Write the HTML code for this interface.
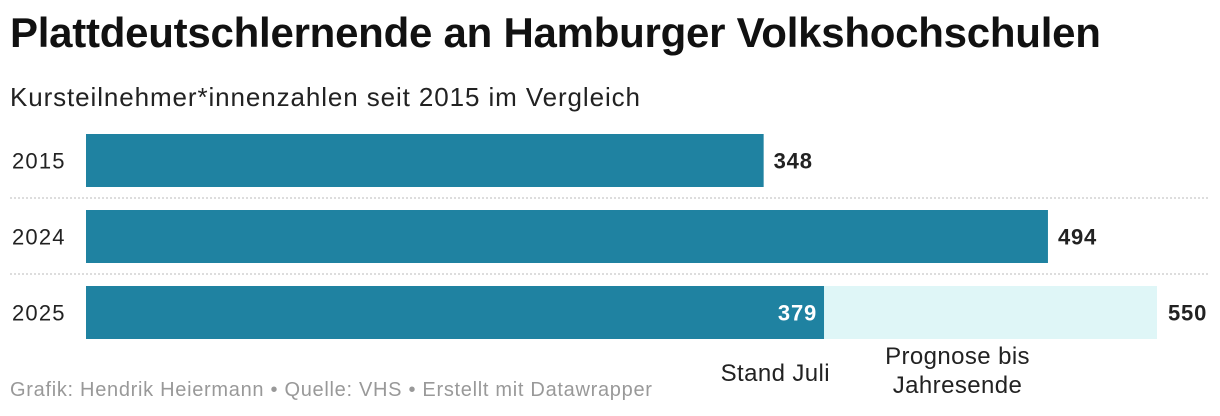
<!DOCTYPE html>
<html><head><meta charset="utf-8">
<style>
body{margin:0;width:1220px;height:416px;background:#fff;font-family:"Liberation Sans",sans-serif;overflow:hidden;position:relative}
.t{position:absolute;white-space:nowrap}
</style></head><body>
<div class="t" style="left:10px;top:9px;font-size:42px;font-weight:bold;color:#111;letter-spacing:-0.25px">Plattdeutschlernende an Hamburger Volkshochschulen</div>
<div class="t" style="left:10px;top:82px;font-size:26px;color:#222;letter-spacing:0.9px">Kursteilnehmer*innenzahlen seit 2015 im Vergleich</div>
<svg id="chart" width="1220" height="416" style="position:absolute;left:0;top:0"></svg>
<div class="t" style="left:10px;top:379px;font-size:20px;color:#999;letter-spacing:0.7px">Grafik: Hendrik Heiermann • Quelle: VHS • Erstellt mit Datawrapper</div>
<script>
const years=["2015","2024","2025"];
const values=[348,494,379];
const forecastValues=[null,null,550];
const annotations=["Stand Juli","Prognose bis","Jahresende"];
const svg=document.getElementById('chart');
const NS="http://www.w3.org/2000/svg";
const x0=86,scale=1071/550;
function xs(v){return x0+v*scale;}
function ys(i){return 134+i*76;}
const bh=53;
function mk(tag,attrs,text){const e=document.createElementNS(NS,tag);for(const k in attrs)e.setAttribute(k,attrs[k]);if(text!==undefined)e.textContent=text;svg.appendChild(e);return e;}
years.forEach((y,i)=>{
  const top=ys(i);
  const lab=mk('text',{x:12,y:top+bh/2+8,'font-size':22,fill:'#222','letter-spacing':1.2},y);
  
  
  if(i>0){const ln=mk('line',{x1:10,x2:1210,y1:top-12,y2:top-12,stroke:'#bbb','stroke-width':1,'stroke-dasharray':'2,2'});
    
    }
  const fv=forecastValues[i];
  if(fv!=null){
    const fb=mk('rect',{x:x0,y:top,width:xs(fv)-x0,height:bh,fill:'#dff6f7'});
    
    
    const fl=mk('text',{x:xs(fv)+11,y:top+bh/2+8,'font-size':22,'font-weight':'bold',fill:'#222','letter-spacing':0.8},fv);
    
    
  }
  const b=mk('rect',{x:x0,y:top,width:xs(values[i])-x0,height:bh,fill:'#1f82a1'});
  
  
  let vl;
  if(fv!=null) vl=mk('text',{x:xs(values[i])-7,y:top+bh/2+8,'font-size':22,'font-weight':'bold',fill:'#fff','text-anchor':'end','letter-spacing':0.8},values[i]);
  else vl=mk('text',{x:xs(values[i])+10,y:top+bh/2+8,'font-size':22,'font-weight':'bold',fill:'#222','letter-spacing':0.8},values[i]);
  
  
});
const a1=mk('text',{x:xs(values[2])+6,y:381,'font-size':24,fill:'#222','text-anchor':'end','letter-spacing':0.4},annotations[0]);


const mid=(xs(values[2])+xs(forecastValues[2]))/2-33;
const a2=mk('text',{x:mid,y:364,'font-size':24,fill:'#222','text-anchor':'middle','letter-spacing':0.4},annotations[1]);


const a3=mk('text',{x:mid,y:393,'font-size':24,fill:'#222','text-anchor':'middle','letter-spacing':0.4},annotations[2]);


</script>
</body></html>
